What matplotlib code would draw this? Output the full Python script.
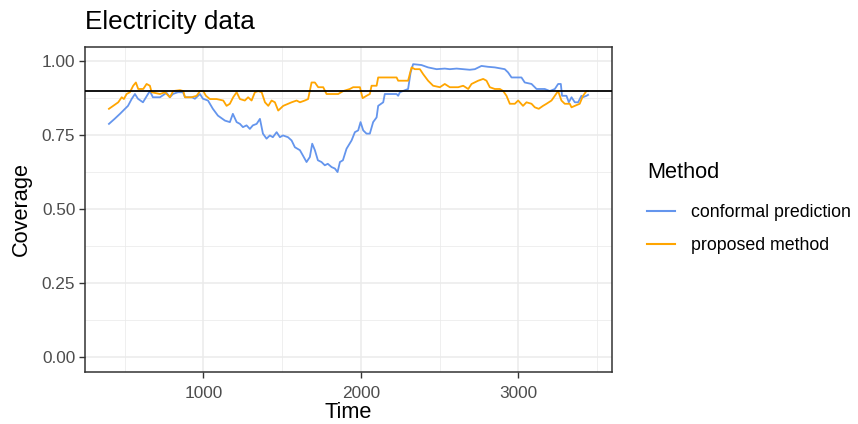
import matplotlib.pyplot as plt
import numpy as np

plt.rcParams['font.family'] = ['Liberation Sans', 'DejaVu Sans']

# conformal prediction coverage
cp_time = [400, 438, 470, 502, 521, 544, 565, 584, 616, 648, 660, 679, 724, 766, 787, 806,
           838, 870, 883, 927, 946, 978, 997, 1029, 1060, 1092, 1137, 1168, 1187, 1211, 1232,
           1251, 1274, 1295, 1314, 1338, 1359, 1378, 1401, 1422, 1441, 1465, 1486, 1505, 1537,
           1560, 1581, 1613, 1632, 1655, 1676, 1691, 1708, 1727, 1750, 1771, 1790, 1814, 1835,
           1852, 1867, 1886, 1909, 1941, 1962, 1983, 1998, 2015, 2036, 2057, 2078, 2100, 2110,
           2142, 2152, 2184, 2227, 2237, 2248, 2300, 2316, 2332, 2385, 2427, 2481, 2533, 2565,
           2608, 2650, 2692, 2724, 2766, 2808, 2851, 2914, 2935, 2957, 3020, 3041, 3084, 3116,
           3168, 3200, 3232, 3253, 3270, 3278, 3306, 3321, 3338, 3359, 3380, 3401, 3409, 3433,
           3443]
cp_cov = [0.789, 0.807, 0.823, 0.840, 0.850, 0.873, 0.890, 0.874, 0.862, 0.890, 0.900, 0.879,
          0.879, 0.894, 0.879, 0.890, 0.896, 0.896, 0.879, 0.879, 0.874, 0.890, 0.874, 0.868,
          0.840, 0.817, 0.800, 0.795, 0.823, 0.795, 0.789, 0.778, 0.784, 0.772, 0.784, 0.789,
          0.806, 0.756, 0.739, 0.750, 0.744, 0.761, 0.744, 0.750, 0.744, 0.733, 0.710, 0.700,
          0.682, 0.660, 0.677, 0.722, 0.700, 0.666, 0.660, 0.649, 0.654, 0.643, 0.638, 0.626,
          0.660, 0.666, 0.705, 0.733, 0.761, 0.767, 0.795, 0.767, 0.756, 0.756, 0.795, 0.811,
          0.850, 0.862, 0.890, 0.890, 0.890, 0.884, 0.896, 0.907, 0.963, 0.991, 0.988, 0.980,
          0.974, 0.976, 0.974, 0.976, 0.974, 0.972, 0.974, 0.985, 0.982, 0.980, 0.974, 0.963,
          0.946, 0.946, 0.929, 0.924, 0.907, 0.907, 0.900, 0.907, 0.924, 0.924, 0.884, 0.884,
          0.862, 0.879, 0.862, 0.862, 0.884, 0.879, 0.884, 0.887]

# proposed method coverage
pm_time = [400, 427, 459, 481, 495, 512, 533, 554, 571, 586, 618, 639, 660, 671, 724, 756,
           787, 808, 851, 872, 883, 925, 957, 978, 999, 1016, 1041, 1084, 1126, 1147, 1168,
           1189, 1211, 1232, 1263, 1284, 1306, 1327, 1348, 1370, 1391, 1412, 1433, 1454, 1475,
           1507, 1538, 1560, 1592, 1613, 1644, 1665, 1687, 1708, 1729, 1761, 1782, 1814, 1856,
           1888, 1930, 1951, 1994, 2011, 2036, 2057, 2068, 2100, 2110, 2227, 2237, 2300, 2322,
           2343, 2375, 2396, 2427, 2459, 2502, 2533, 2565, 2618, 2650, 2682, 2703, 2745, 2777,
           2798, 2819, 2851, 2883, 2904, 2925, 2946, 2978, 2999, 3030, 3052, 3084, 3105, 3130,
           3157, 3179, 3211, 3232, 3253, 3274, 3295, 3327, 3338, 3359, 3390, 3411, 3433, 3443]
pm_cov = [0.840, 0.850, 0.862, 0.879, 0.873, 0.890, 0.896, 0.918, 0.929, 0.907, 0.907, 0.924,
          0.918, 0.896, 0.890, 0.896, 0.879, 0.900, 0.903, 0.900, 0.879, 0.879, 0.884, 0.900,
          0.900, 0.884, 0.873, 0.873, 0.868, 0.850, 0.857, 0.879, 0.896, 0.873, 0.868, 0.879,
          0.868, 0.896, 0.900, 0.896, 0.862, 0.850, 0.868, 0.862, 0.834, 0.850, 0.857, 0.862,
          0.868, 0.862, 0.868, 0.873, 0.929, 0.929, 0.913, 0.913, 0.890, 0.890, 0.890, 0.900,
          0.907, 0.913, 0.913, 0.876, 0.884, 0.890, 0.918, 0.918, 0.946, 0.946, 0.935, 0.935,
          0.980, 0.974, 0.974, 0.957, 0.935, 0.918, 0.913, 0.924, 0.913, 0.913, 0.918, 0.907,
          0.924, 0.935, 0.941, 0.935, 0.913, 0.907, 0.907, 0.900, 0.884, 0.857, 0.857, 0.868,
          0.850, 0.862, 0.857, 0.845, 0.840, 0.850, 0.857, 0.868, 0.884, 0.900, 0.868, 0.857,
          0.857, 0.845, 0.850, 0.857, 0.884, 0.900, 0.900]

target = 0.9
methods = ["conformal prediction", "proposed method"]
colors = ["cornflowerblue", "orange"]

W, H = 858, 424
fig = plt.figure(figsize=(W / 100, H / 100), dpi=100)
ax = fig.add_axes([85 / W, 1 - 372 / H, (612 - 85) / W, (372 - 46.7) / H])

ax.plot(cp_time, cp_cov, color=colors[0], lw=1.3, label=methods[0], zorder=3)
ax.plot(pm_time, pm_cov, color=colors[1], lw=1.3, label=methods[1], zorder=3)
ax.axhline(target, color="black", lw=1.3, zorder=4)

# ggplot-like limits with 5% expansion
x0, x1 = 400, 3443
pad = 0.05 * (x1 - x0)
ax.set_xlim(x0 - pad, x1 + pad)
ax.set_ylim(-0.05, 1.05)

ax.set_xticks([1000, 2000, 3000])
ax.set_xticks([500, 1500, 2500, 3500], minor=True)
ax.set_yticks([0, 0.25, 0.5, 0.75, 1.0])
ax.set_yticklabels(["0.00", "0.25", "0.50", "0.75", "1.00"])
ax.set_yticks([0.125, 0.375, 0.625, 0.875], minor=True)

ax.grid(which="major", color="#EBEBEB", lw=1.1, zorder=0)
ax.grid(which="minor", color="#EBEBEB", lw=0.55, zorder=0)
ax.set_axisbelow(True)

for s in ax.spines.values():
    s.set_color("#333333")
    s.set_linewidth(1.1)

ax.tick_params(which="major", length=4, width=1.0, color="#333333",
               labelcolor="#4D4D4D", labelsize=12.4, pad=3)
ax.tick_params(axis="x", which="major", pad=6)
ax.tick_params(which="minor", length=0)

ax.set_xlabel("Time", fontsize=15.7, labelpad=1)
ax.set_ylabel("Coverage", fontsize=15.7, labelpad=7)
ax.set_title("Electricity data", fontsize=18.8, loc="left", pad=13)

leg = ax.legend(title="Method", loc="upper left",
                bbox_to_anchor=(647 / W, 1 - 162 / H), bbox_transform=fig.transFigure,
                frameon=False, fontsize=12.8, title_fontsize=15.7, handlelength=1.6,
                labelspacing=0.9, handletextpad=0.9, borderpad=0, borderaxespad=0)
leg._legend_box.align = "left"
leg._legend_box.sep = 15
for h in leg.legend_handles:
    h.set_linewidth(1.5)

fig.savefig("out.png", dpi=100)
